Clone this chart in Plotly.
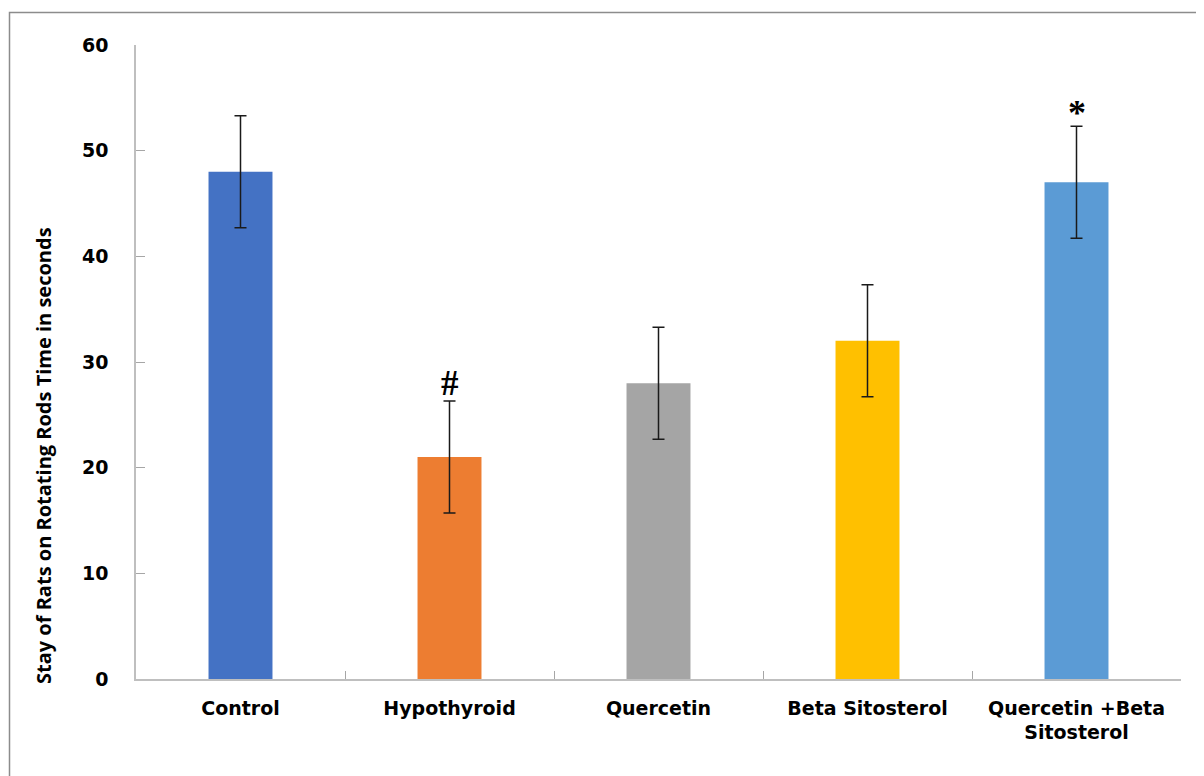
import plotly.graph_objects as go

categories = ["Control", "Hypothyroid", "Quercetin", "Beta Sitosterol", "Quercetin +Beta<br>Sitosterol"]
values = [48, 21, 28, 32, 47]
errors = [5.3, 5.3, 5.3, 5.3, 5.3]
colors = ["#4472C4", "#ED7D31", "#A5A5A5", "#FFC000", "#5B9BD5"]
marks = ["", "#", "", "", "*"]
y_ticks = [0, 10, 20, 30, 40, 50, 60]
y_title = "Stay of Rats on Rotating Rods Time in seconds"

fig = go.Figure()
fig.add_trace(go.Bar(
    x=categories, y=values,
    marker=dict(color=colors, line=dict(width=0)),
    error_y=dict(type="data", array=errors, visible=True, color="#1a1a1a", thickness=1.5, width=6),
    width=0.306,
))

for c, v, e, m in zip(categories, values, errors, marks):
    if m:
        fig.add_annotation(x=c, y=v + e, text=m, showarrow=False, yanchor="bottom",
                           yshift=-9 if m == "*" else -4,
                           font=dict(family="Liberation Serif", size=36 if m == "*" else 35,
                                     color="#000000", weight="bold"))

OFF = 8  # body margin of the page
W, H = 1196, 768
L, R, T, B = 128, 23, 37, 97
pw, ph = W - L - R, H - T - B
def px(x):
    return (x - OFF - L) / pw
def py(y):
    return (H - B - (y - OFF)) / ph

fig.add_shape(type="rect", xref="paper", yref="paper",
              x0=px(9.5), x1=px(1230), y0=py(820), y1=py(12.5),
              line=dict(color="#8c8c8c", width=1.5), fillcolor="rgba(0,0,0,0)", layer="below")

fig.add_annotation(xref="paper", yref="paper", x=px(43), y=py(456), text=y_title,
                   textangle=-90, showarrow=False, xanchor="center", yanchor="middle",
                   font=dict(family="Open Sans", size=20, color="#000000", weight="bold"))

fig.update_layout(
    width=W, height=H,
    margin=dict(l=L, r=R, t=T, b=B),
    plot_bgcolor="white", paper_bgcolor="white",
    showlegend=False,
    xaxis=dict(
        type="category", tickson="boundaries", ticks="inside", ticklen=8, tickwidth=1.2,
        tickcolor="#a6a6a6", showline=True, linecolor="#bfbfbf", linewidth=1.5,
        showgrid=False, ticklabelstandoff=11,
        tickfont=dict(family="DejaVu Sans", size=19, color="#000000", weight="bold"),
    ),
    yaxis=dict(
        range=[0, 60], tickvals=y_ticks, ticks="inside", ticklen=9, tickwidth=1.2,
        tickcolor="#a6a6a6", showline=True, linecolor="#bfbfbf", linewidth=1.5,
        showgrid=False, zeroline=False, ticklabelstandoff=22,
        tickfont=dict(family="DejaVu Sans", size=19, color="#000000", weight="bold"),
    ),
)

fig.write_html("out.html")
